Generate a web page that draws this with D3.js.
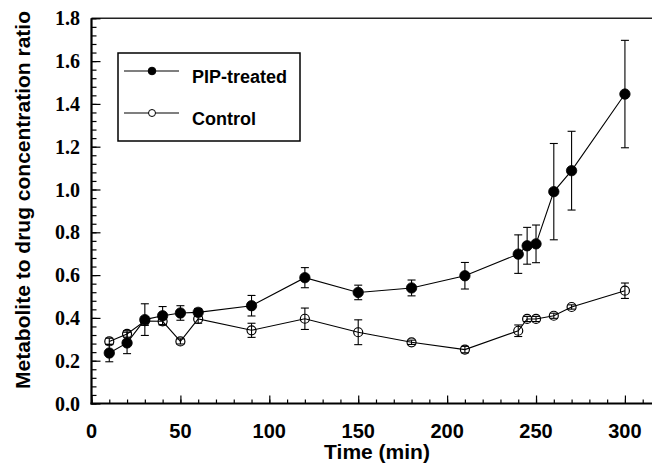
<!DOCTYPE html>
<html>
<head>
<meta charset="utf-8">
<script src="https://cdn.jsdelivr.net/npm/d3@7"></script>
<style>
  html, body { margin: 0; padding: 0; background: #fff; }
  svg { display: block; }
</style>
</head>
<body>
<svg id="chart" width="652" height="464"></svg>
<script>
const times   = [10, 20, 30, 40, 50, 60, 90, 120, 150, 180, 210, 240, 245, 250, 260, 270, 300];
const pipMean = [0.236, 0.283, 0.392, 0.41, 0.423, 0.426, 0.457, 0.588, 0.519, 0.54, 0.597, 0.698, 0.737, 0.746, 0.99, 1.088, 1.446];
const pipErr  = [0.041, 0.05, 0.074, 0.043, 0.034, 0.018, 0.048, 0.047, 0.034, 0.037, 0.062, 0.09, 0.086, 0.088, 0.225, 0.184, 0.251];
const ctlMean = [0.29, 0.325, 0.385, 0.384, 0.29, 0.395, 0.342, 0.396, 0.333, 0.286, 0.252, 0.34, 0.395, 0.395, 0.41, 0.451, 0.527];
const ctlErr  = [0.015, 0.015, 0.02, 0.015, 0.012, 0.02, 0.033, 0.05, 0.058, 0.01, 0.015, 0.027, 0.012, 0.012, 0.012, 0.01, 0.036];
const xTicks = [0, 50, 100, 150, 200, 250, 300];
const yTicks = [0.0, 0.2, 0.4, 0.6, 0.8, 1.0, 1.2, 1.4, 1.6, 1.8];
const seriesNames = ["PIP-treated", "Control"];

const svg = d3.select("#chart");
const x = d3.scaleLinear().domain([0, 315]).range([91.5, 651.6]);
const y = d3.scaleLinear().domain([0, 1.8]).range([403.5, 18.3]);

const sans = "'Liberation Sans', Arial, Helvetica, sans-serif";
const serif = "'Liberation Serif', 'Times New Roman', serif";

// frame: top line
svg.append("line").attr("x1", x(0)).attr("x2", 652).attr("y1", y(1.8)).attr("y2", y(1.8))
  .attr("stroke", "#222").attr("stroke-width", 1.5);

// y axis (ticks inward)
const yMinor = d3.range(0, 1.8001, 0.04);
const yAx = d3.axisRight(y).tickValues(yMinor).tickSize(5).tickFormat("");
const gy = svg.append("g").attr("transform", `translate(${x(0)},0)`).call(yAx);
gy.select(".domain").remove();
gy.selectAll(".tick line").attr("stroke", "#000").attr("stroke-width", 1.2);
const yMaj = d3.axisRight(y).tickValues(yTicks).tickSize(9).tickFormat("");
const gy2 = svg.append("g").attr("transform", `translate(${x(0)},0)`).call(yMaj);
gy2.select(".domain").remove();
gy2.selectAll(".tick line").attr("stroke", "#000").attr("stroke-width", 1.2);
svg.append("line").attr("x1", x(0)).attr("x2", x(0)).attr("y1", y(1.8)).attr("y2", y(0) + 1)
  .attr("stroke", "#000").attr("stroke-width", 2.2);
svg.append("g").selectAll("text").data(yTicks).join("text")
  .attr("x", 80).attr("y", d => y(d)).attr("dy", "0.35em")
  .attr("text-anchor", "end")
  .attr("font-family", serif).attr("font-weight", "bold").attr("font-size", 20)
  .text(d => d.toFixed(1));

// x axis (ticks inward)
const xMinor = d3.range(0, 311, 10);
const xAx = d3.axisTop(x).tickValues(xMinor).tickSize(4).tickFormat("");
const gx = svg.append("g").attr("transform", `translate(0,${y(0)})`).call(xAx);
gx.select(".domain").remove();
gx.selectAll(".tick line").attr("stroke", "#000").attr("stroke-width", 1.2);
const xMaj = d3.axisTop(x).tickValues(xTicks).tickSize(8).tickFormat("");
const gx2 = svg.append("g").attr("transform", `translate(0,${y(0)})`).call(xMaj);
gx2.select(".domain").remove();
gx2.selectAll(".tick line").attr("stroke", "#000").attr("stroke-width", 1.2);
svg.append("line").attr("x1", x(0) - 1).attr("x2", 652).attr("y1", y(0)).attr("y2", y(0))
  .attr("stroke", "#000").attr("stroke-width", 2.2);
svg.append("g").selectAll("text").data(xTicks).join("text")
  .attr("x", d => x(d)).attr("y", 438)
  .attr("text-anchor", "middle")
  .attr("font-family", sans).attr("font-weight", "bold").attr("font-size", 20)
  .text(d => d);

// axis titles
svg.append("text").attr("x", 377).attr("y", 459).attr("text-anchor", "middle")
  .attr("font-family", sans).attr("font-weight", "bold").attr("font-size", 21)
  .text("Time (min)");
svg.append("text").attr("transform", `translate(30,${(8 + 392) / 2}) rotate(-90)`)
  .attr("text-anchor", "middle")
  .attr("font-family", sans).attr("font-weight", "bold").attr("font-size", 21)
  .text("Metabolite to drug concentration ratio");

// data
const pip = times.map((t, i) => ({ t, v: pipMean[i], e: pipErr[i] }));
const ctl = times.map((t, i) => ({ t, v: ctlMean[i], e: ctlErr[i] }));
const line = d3.line().x(d => x(d.t)).y(d => y(d.v));

function errBars(data) {
  const g = svg.append("g").attr("stroke", "#000").attr("stroke-width", 1.1).attr("fill", "none");
  data.forEach(d => {
    g.append("line").attr("x1", x(d.t)).attr("x2", x(d.t)).attr("y1", y(d.v - d.e)).attr("y2", y(d.v + d.e));
    [d.v - d.e, d.v + d.e].forEach(v => {
      g.append("line").attr("x1", x(d.t) - 4).attr("x2", x(d.t) + 4).attr("y1", y(v)).attr("y2", y(v));
    });
  });
}

svg.append("path").datum(ctl).attr("d", line).attr("fill", "none").attr("stroke", "#000").attr("stroke-width", 1.1);
svg.append("path").datum(pip).attr("d", line).attr("fill", "none").attr("stroke", "#000").attr("stroke-width", 1.1);
errBars(ctl);
errBars(pip);

svg.append("g").selectAll("circle").data(ctl).join("circle")
  .attr("cx", d => x(d.t)).attr("cy", d => y(d.v)).attr("r", 4.5)
  .attr("fill", "none").attr("stroke", "#000").attr("stroke-width", 1.2);
svg.append("g").selectAll("circle").data(pip).join("circle")
  .attr("cx", d => x(d.t)).attr("cy", d => y(d.v)).attr("r", 5.2)
  .attr("fill", "#000").attr("stroke", "#000").attr("stroke-width", 0.8);

// legend
const lg = svg.append("g");
lg.append("rect").attr("x", 118).attr("y", 53).attr("width", 182).attr("height", 88)
  .attr("fill", "#fff").attr("stroke", "#000").attr("stroke-width", 1.5);
const legendY = [71, 113];
seriesNames.forEach((name, i) => {
  lg.append("line").attr("x1", 124).attr("x2", 179).attr("y1", legendY[i]).attr("y2", legendY[i])
    .attr("stroke", "#000").attr("stroke-width", 1.1);
  lg.append("circle").attr("cx", 152).attr("cy", legendY[i]).attr("r", i === 0 ? 3.8 : 3.5)
    .attr("fill", i === 0 ? "#000" : "#fff").attr("stroke", "#000").attr("stroke-width", 1);
  lg.append("text").attr("x", 192).attr("y", legendY[i] + 12)
    .attr("font-family", sans).attr("font-weight", "bold").attr("font-size", 18)
    .text(name);
});
</script>
</body>
</html>
